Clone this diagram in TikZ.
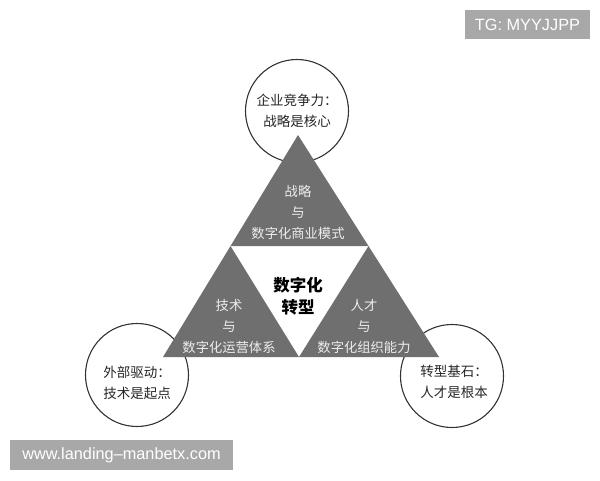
\documentclass[tikz,border=0pt]{standalone}
\usepackage{fontspec}
\usepackage{xcolor}
\usepackage{tikz}
\usetikzlibrary{positioning,shapes}
\newfontfamily\cjk{Noto Sans CJK SC}
\newfontfamily\wmfont{Liberation Sans}
\definecolor{trigray}{HTML}{6F6F6F}
\definecolor{markgray}{HTML}{A8A8A8}
\definecolor{ringline}{HTML}{333333}
\tikzset{
    ring/.style={
        circle,
        draw=ringline,
        line width=1.1pt,
        fill=white,
        minimum size=103pt,
        inner sep=0pt
    },
    ringtext/.style={
        align=center,
        text=black!85,
        font=\cjk\fontsize{13.5}{21}\selectfont
    }
}
\tikzstyle{tripart} = [fill=trigray]
\tikzstyle{tritext} = [align=center, text=white!93!black, font=\cjk\fontsize{13.3}{21}\selectfont]
\tikzstyle{coretext} = [align=center, text=black, font=\cjk\bfseries\fontsize{16.5}{22}\selectfont]
\tikzstyle{wmark} = [rectangle, fill=markgray, text=white, inner sep=0pt, font=\wmfont\fontsize{16.3}{18}\selectfont]

\begin{document}
\begin{tikzpicture}[x=1pt,y=-1pt]
          \useasboundingbox (0,0) rectangle (600,480);
          % three circles behind the triangle
          \node (topring) [ring] at (297,111) {};
          \node (leftring) [ring] at (137,375) {};
          \node (rightring) [ring] at (452,376) {};
          \node (toptext) [ringtext] at (297,110.5) {企业竞争力：\\战略是核心};
          \node (lefttext) [ringtext] at (137,382.5) {外部驱动：\\技术是起点};
          \node (righttext) [ringtext] at (454,382) {转型基石：\\人才是根本};
          % the triangle
          \coordinate (apex) at (298,135);
          \coordinate (bl) at (163,357);
          \coordinate (br) at (439,357);
          \coordinate (ml) at (230.5,246);
          \coordinate (mr) at (368.5,246);
          \coordinate (mb) at (299,357);
          \fill [tripart] (apex) -- (ml) -- (mr) -- cycle;
          \fill [tripart] (ml) -- (bl) -- (mb) -- cycle;
          \fill [tripart] (mr) -- (mb) -- (br) -- cycle;
          \node (strategy) [tritext] at (298,212) {战略\\与\\数字化商业模式};
          \node (tech) [tritext] at (229,326) {技术\\与\\数字化运营体系};
          \node (talent) [tritext] at (364,326) {人才\\与\\数字化组织能力};
          \node (core) [coretext] at (298,296) {数字化\\转型};
          % watermarks
          \node (tg) [wmark, minimum width=125pt, minimum height=29pt] at (527.5,24.5) {TG: MYYJJPP};
          \node (site) [wmark, minimum width=223pt, minimum height=30pt] at (121.5,455) {www.landing–manbetx.com};
\end{tikzpicture}
\end{document}
